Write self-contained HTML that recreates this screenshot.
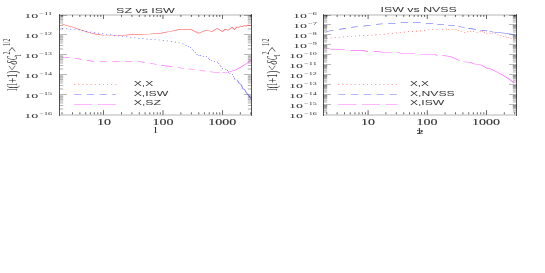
<!DOCTYPE html>
<html><head><meta charset="utf-8"><style>
html,body{margin:0;padding:0;background:#fff;}
svg{display:block;}
</style></head><body>
<svg width="545" height="273" viewBox="0 0 545 273">
<defs><filter id="tb" x="0" y="0" width="545" height="273" filterUnits="userSpaceOnUse"><feGaussianBlur stdDeviation="0.3"/></filter></defs>
<rect width="545" height="273" fill="#fff"/>
<g transform="scale(1.7,1)" stroke-linecap="butt" stroke-linejoin="round">
<polyline points="36.59,24.20 42.47,26.90 47.65,29.90 52.76,32.70 57.18,34.40 60.82,35.20 70.59,35.50 77.18,34.60 88.24,34.00 94.82,33.10 100.00,31.50 105.12,29.60 109.41,29.20 112.35,29.60 116.76,33.35 121.18,30.20 124.82,31.50 127.76,28.35 130.71,31.50 132.53,29.20 134.35,30.20 136.47,27.10 137.88,29.60 139.18,27.10 140.24,27.50 141.76,25.90 142.59,26.70 143.94,25.60 144.71,26.20 145.76,25.00 147.65,25.20" fill="none" stroke="#ff0000" stroke-width="0.6" stroke-opacity="0.58" />
<polyline points="36.59,28.40 41.76,29.20 46.88,29.90 51.29,31.50 55.71,32.70 60.12,33.70 64.53,34.60 69.65,35.80 71.88,36.50 76.47,37.10 81.59,38.30 86.00,39.00 90.41,39.60 94.82,40.20 97.76,40.80 102.18,41.70 106.59,43.30 108.59,44.40" fill="none" stroke="#0000ff" stroke-width="0.6" stroke-opacity="0.85" stroke-dasharray="0.55 1.87" />
<rect x="109.15" y="45.05" width="0.53" height="0.7" fill="#0000ff" fill-opacity="0.68"/>
<rect x="110.56" y="46.05" width="0.53" height="0.7" fill="#0000ff" fill-opacity="0.68"/>
<rect x="111.74" y="47.25" width="0.53" height="0.7" fill="#0000ff" fill-opacity="0.68"/>
<rect x="112.79" y="48.95" width="0.53" height="0.7" fill="#0000ff" fill-opacity="0.68"/>
<rect x="113.62" y="50.45" width="0.53" height="0.7" fill="#0000ff" fill-opacity="0.68"/>
<rect x="114.68" y="52.15" width="0.53" height="0.7" fill="#0000ff" fill-opacity="0.68"/>
<rect x="115.56" y="53.95" width="0.53" height="0.7" fill="#0000ff" fill-opacity="0.68"/>
<rect x="116.74" y="55.15" width="0.53" height="0.7" fill="#0000ff" fill-opacity="0.68"/>
<rect x="117.74" y="55.25" width="0.53" height="0.7" fill="#0000ff" fill-opacity="0.68"/>
<rect x="119.32" y="56.05" width="0.53" height="0.7" fill="#0000ff" fill-opacity="0.68"/>
<rect x="121.09" y="56.15" width="0.53" height="0.7" fill="#0000ff" fill-opacity="0.68"/>
<rect x="122.32" y="57.85" width="0.53" height="0.7" fill="#0000ff" fill-opacity="0.68"/>
<rect x="123.03" y="59.05" width="0.53" height="0.7" fill="#0000ff" fill-opacity="0.68"/>
<rect x="124.15" y="60.15" width="0.53" height="0.7" fill="#0000ff" fill-opacity="0.68"/>
<rect x="125.79" y="61.15" width="0.53" height="0.7" fill="#0000ff" fill-opacity="0.68"/>
<rect x="127.62" y="61.85" width="0.53" height="0.7" fill="#0000ff" fill-opacity="0.68"/>
<rect x="128.38" y="63.05" width="0.53" height="0.7" fill="#0000ff" fill-opacity="0.68"/>
<rect x="129.21" y="64.85" width="0.53" height="0.7" fill="#0000ff" fill-opacity="0.68"/>
<rect x="129.74" y="66.05" width="0.53" height="0.7" fill="#0000ff" fill-opacity="0.68"/>
<rect x="130.62" y="68.05" width="0.53" height="0.7" fill="#0000ff" fill-opacity="0.68"/>
<rect x="132.56" y="69.25" width="0.53" height="0.7" fill="#0000ff" fill-opacity="0.68"/>
<rect x="133.62" y="70.05" width="0.53" height="0.7" fill="#0000ff" fill-opacity="0.68"/>
<rect x="134.15" y="71.85" width="0.53" height="0.7" fill="#0000ff" fill-opacity="0.68"/>
<rect x="134.97" y="73.05" width="0.53" height="0.7" fill="#0000ff" fill-opacity="0.68"/>
<rect x="136.50" y="74.15" width="0.53" height="0.7" fill="#0000ff" fill-opacity="0.68"/>
<rect x="137.09" y="76.25" width="0.53" height="0.7" fill="#0000ff" fill-opacity="0.68"/>
<rect x="137.62" y="77.75" width="0.53" height="0.7" fill="#0000ff" fill-opacity="0.68"/>
<rect x="137.91" y="78.85" width="0.53" height="0.7" fill="#0000ff" fill-opacity="0.68"/>
<rect x="139.32" y="79.95" width="0.53" height="0.7" fill="#0000ff" fill-opacity="0.68"/>
<polyline points="139.76,80.80 140.12,81.60 140.65,83.40 141.88,84.60 142.35,86.50 142.71,88.50 143.76,89.50 144.35,90.90 144.65,92.10 145.29,93.30 146.24,95.30 147.65,98.70" fill="none" stroke="#0000ff" stroke-width="0.6" stroke-opacity="0.5"/>
<polyline points="36.59,57.50 40.88,57.60" fill="none" stroke="#ff00ff" stroke-width="0.6" stroke-opacity="0.58" />
<polyline points="43.94,58.20 48.00,59.40" fill="none" stroke="#ff00ff" stroke-width="0.6" stroke-opacity="0.58" />
<polyline points="51.18,60.40 55.18,61.40" fill="none" stroke="#ff00ff" stroke-width="0.6" stroke-opacity="0.58" />
<polyline points="58.47,61.50 62.71,61.50" fill="none" stroke="#ff00ff" stroke-width="0.6" stroke-opacity="0.58" />
<polyline points="66.00,61.50 70.41,61.50" fill="none" stroke="#ff00ff" stroke-width="0.6" stroke-opacity="0.58" />
<polyline points="73.53,61.50 77.76,61.50" fill="none" stroke="#ff00ff" stroke-width="0.6" stroke-opacity="0.58" />
<polyline points="80.88,61.50 85.06,62.40" fill="none" stroke="#ff00ff" stroke-width="0.6" stroke-opacity="0.58" />
<polyline points="88.24,63.20 92.24,64.50" fill="none" stroke="#ff00ff" stroke-width="0.6" stroke-opacity="0.58" />
<polyline points="94.82,65.40 101.41,66.60" fill="none" stroke="#ff00ff" stroke-width="0.6" stroke-opacity="0.58" />
<polyline points="104.53,67.50 108.18,68.50" fill="none" stroke="#ff00ff" stroke-width="0.6" stroke-opacity="0.58" />
<polyline points="110.88,68.70 114.53,69.70" fill="none" stroke="#ff00ff" stroke-width="0.6" stroke-opacity="0.58" />
<polyline points="117.12,70.00 120.82,71.20" fill="none" stroke="#ff00ff" stroke-width="0.6" stroke-opacity="0.58" />
<polyline points="123.35,71.80 129.24,72.70" fill="none" stroke="#ff00ff" stroke-width="0.6" stroke-opacity="0.58" />
<polyline points="130.71,72.70 135.12,71.80 138.82,69.70 142.47,66.20 145.41,63.10 147.65,60.00" fill="none" stroke="#ff00ff" stroke-width="0.6" stroke-opacity="0.58" />
<polyline points="43.65,84.50 68.47,84.50" fill="none" stroke="#ff0000" stroke-width="0.6" stroke-opacity="0.85" stroke-dasharray="0.55 1.87" />
<polyline points="43.59,94.50 68.18,94.50" fill="none" stroke="#0000ff" stroke-width="0.6" stroke-opacity="0.58" stroke-dasharray="4.29 3.18" />
<polyline points="43.59,104.50 68.12,104.50" fill="none" stroke="#ff00ff" stroke-width="0.6" stroke-opacity="0.58" stroke-dasharray="10.65 3.18" />
<polyline points="192.12,31.50 196.18,30.20" fill="none" stroke="#0000ff" stroke-width="0.6" stroke-opacity="0.58" />
<polyline points="199.47,29.40 203.35,28.40" fill="none" stroke="#0000ff" stroke-width="0.6" stroke-opacity="0.58" />
<polyline points="206.65,27.40 210.47,26.50" fill="none" stroke="#0000ff" stroke-width="0.6" stroke-opacity="0.58" />
<polyline points="213.76,26.10 218.00,25.20" fill="none" stroke="#0000ff" stroke-width="0.6" stroke-opacity="0.58" />
<polyline points="221.35,24.40 225.12,23.70" fill="none" stroke="#0000ff" stroke-width="0.6" stroke-opacity="0.58" />
<polyline points="228.29,23.40 232.71,23.40" fill="none" stroke="#0000ff" stroke-width="0.6" stroke-opacity="0.58" />
<polyline points="235.65,22.50 240.06,22.50" fill="none" stroke="#0000ff" stroke-width="0.6" stroke-opacity="0.58" />
<polyline points="243.00,22.50 247.41,22.50" fill="none" stroke="#0000ff" stroke-width="0.6" stroke-opacity="0.58" />
<polyline points="250.53,23.40 254.76,23.40" fill="none" stroke="#0000ff" stroke-width="0.6" stroke-opacity="0.58" />
<polyline points="257.18,24.40 261.12,24.40" fill="none" stroke="#0000ff" stroke-width="0.6" stroke-opacity="0.58" />
<polyline points="263.76,25.50 267.41,25.50" fill="none" stroke="#0000ff" stroke-width="0.6" stroke-opacity="0.58" />
<polyline points="269.65,26.50 273.29,27.50" fill="none" stroke="#0000ff" stroke-width="0.6" stroke-opacity="0.58" />
<polyline points="275.47,28.40 279.88,29.40" fill="none" stroke="#0000ff" stroke-width="0.6" stroke-opacity="0.58" />
<polyline points="282.47,30.20 286.53,30.90" fill="none" stroke="#0000ff" stroke-width="0.6" stroke-opacity="0.58" />
<polyline points="288.00,31.50 290.18,32.00 294.59,32.70 299.35,33.70 302.94,34.70" fill="none" stroke="#0000ff" stroke-width="0.6" stroke-opacity="0.58" />
<polyline points="192.12,38.60 196.88,37.70 204.24,36.50 211.59,35.80 218.94,35.20 225.88,34.20 230.88,33.40 235.29,32.50 241.88,31.50 247.06,30.90 253.65,29.60 258.06,29.40 259.12,29.40" fill="none" stroke="#ff0000" stroke-width="0.6" stroke-opacity="0.85" stroke-dasharray="0.55 1.87" />
<rect x="260.09" y="29.15" width="0.53" height="0.7" fill="#ff0000" fill-opacity="0.62"/>
<rect x="262.38" y="28.75" width="0.53" height="0.7" fill="#ff0000" fill-opacity="0.62"/>
<rect x="263.68" y="29.15" width="0.53" height="0.7" fill="#ff0000" fill-opacity="0.62"/>
<rect x="266.09" y="29.15" width="0.53" height="0.7" fill="#ff0000" fill-opacity="0.62"/>
<rect x="267.97" y="29.15" width="0.53" height="0.7" fill="#ff0000" fill-opacity="0.62"/>
<rect x="269.32" y="30.25" width="0.53" height="0.7" fill="#ff0000" fill-opacity="0.62"/>
<rect x="270.97" y="31.15" width="0.53" height="0.7" fill="#ff0000" fill-opacity="0.62"/>
<rect x="273.03" y="32.05" width="0.53" height="0.7" fill="#ff0000" fill-opacity="0.62"/>
<rect x="274.97" y="31.15" width="0.53" height="0.7" fill="#ff0000" fill-opacity="0.62"/>
<rect x="276.62" y="31.15" width="0.53" height="0.7" fill="#ff0000" fill-opacity="0.62"/>
<rect x="278.32" y="31.15" width="0.53" height="0.7" fill="#ff0000" fill-opacity="0.62"/>
<rect x="280.38" y="32.05" width="0.53" height="0.7" fill="#ff0000" fill-opacity="0.62"/>
<rect x="282.21" y="30.95" width="0.53" height="0.7" fill="#ff0000" fill-opacity="0.62"/>
<rect x="283.50" y="30.95" width="0.53" height="0.7" fill="#ff0000" fill-opacity="0.62"/>
<rect x="284.74" y="32.15" width="0.53" height="0.7" fill="#ff0000" fill-opacity="0.62"/>
<rect x="286.09" y="32.95" width="0.53" height="0.7" fill="#ff0000" fill-opacity="0.62"/>
<rect x="288.03" y="32.85" width="0.53" height="0.7" fill="#ff0000" fill-opacity="0.62"/>
<rect x="289.32" y="32.95" width="0.53" height="0.7" fill="#ff0000" fill-opacity="0.62"/>
<rect x="291.26" y="32.95" width="0.53" height="0.7" fill="#ff0000" fill-opacity="0.62"/>
<rect x="292.56" y="34.45" width="0.53" height="0.7" fill="#ff0000" fill-opacity="0.62"/>
<rect x="294.32" y="35.05" width="0.53" height="0.7" fill="#ff0000" fill-opacity="0.62"/>
<rect x="295.79" y="36.05" width="0.53" height="0.7" fill="#ff0000" fill-opacity="0.62"/>
<rect x="296.97" y="35.95" width="0.53" height="0.7" fill="#ff0000" fill-opacity="0.62"/>
<rect x="297.97" y="37.05" width="0.53" height="0.7" fill="#ff0000" fill-opacity="0.62"/>
<rect x="299.03" y="37.05" width="0.53" height="0.7" fill="#ff0000" fill-opacity="0.62"/>
<rect x="300.32" y="38.15" width="0.53" height="0.7" fill="#ff0000" fill-opacity="0.62"/>
<rect x="302.09" y="39.25" width="0.53" height="0.7" fill="#ff0000" fill-opacity="0.62"/>
<polyline points="192.12,47.90 194.35,49.10 202.76,49.50" fill="none" stroke="#ff00ff" stroke-width="0.6" stroke-opacity="0.58" />
<polyline points="206.06,50.40 213.06,50.40 216.35,51.60" fill="none" stroke="#ff00ff" stroke-width="0.6" stroke-opacity="0.58" />
<polyline points="219.82,51.60 222.59,51.60 225.88,52.50 230.53,52.50" fill="none" stroke="#ff00ff" stroke-width="0.6" stroke-opacity="0.58" />
<polyline points="233.65,52.20 236.00,53.50 244.12,53.50" fill="none" stroke="#ff00ff" stroke-width="0.6" stroke-opacity="0.58" />
<polyline points="247.18,54.50 255.12,54.50 257.29,55.40" fill="none" stroke="#ff00ff" stroke-width="0.6" stroke-opacity="0.58" />
<polyline points="260.24,55.40 263.53,56.20 265.59,56.90 270.35,60.40" fill="none" stroke="#ff00ff" stroke-width="0.6" stroke-opacity="0.58" />
<polyline points="272.59,61.80 276.94,62.50 279.53,64.30 283.24,65.00 286.12,68.10 288.35,68.70 290.53,70.60 292.24,71.90 295.59,75.00 299.24,78.70 302.53,83.10" fill="none" stroke="#ff00ff" stroke-width="0.6" stroke-opacity="0.58" />
<polyline points="198.94,84.50 233.76,84.50" fill="none" stroke="#ff0000" stroke-width="0.6" stroke-opacity="0.85" stroke-dasharray="0.55 1.87" />
<polyline points="198.94,94.50 233.53,94.50" fill="none" stroke="#0000ff" stroke-width="0.6" stroke-opacity="0.58" stroke-dasharray="4.29 3.24" />
<polyline points="198.94,104.50 233.82,104.50" fill="none" stroke="#ff00ff" stroke-width="0.6" stroke-opacity="0.58" stroke-dasharray="10.76 3.12" />
</g>
<line x1="59.50" y1="15.00" x2="251.50" y2="15.00" stroke="#000" stroke-width="2.0" opacity="0.14"/>
<line x1="59.50" y1="115.00" x2="251.50" y2="115.00" stroke="#000" stroke-width="2.0" opacity="0.14"/>
<line x1="62.00" y1="114.30" x2="62.00" y2="112.30" stroke="#000" stroke-width="0.85" opacity="0.72"/>
<line x1="62.00" y1="15.00" x2="62.00" y2="16.90" stroke="#000" stroke-width="0.85" opacity="0.72"/>
<line x1="72.46" y1="114.30" x2="72.46" y2="112.30" stroke="#000" stroke-width="0.85" opacity="0.72"/>
<line x1="72.46" y1="15.00" x2="72.46" y2="16.90" stroke="#000" stroke-width="0.85" opacity="0.72"/>
<line x1="79.89" y1="114.30" x2="79.89" y2="112.30" stroke="#000" stroke-width="0.85" opacity="0.72"/>
<line x1="79.89" y1="15.00" x2="79.89" y2="16.90" stroke="#000" stroke-width="0.85" opacity="0.72"/>
<line x1="85.65" y1="114.30" x2="85.65" y2="112.30" stroke="#000" stroke-width="0.85" opacity="0.72"/>
<line x1="85.65" y1="15.00" x2="85.65" y2="16.90" stroke="#000" stroke-width="0.85" opacity="0.72"/>
<line x1="90.36" y1="114.30" x2="90.36" y2="112.30" stroke="#000" stroke-width="0.85" opacity="0.72"/>
<line x1="90.36" y1="15.00" x2="90.36" y2="16.90" stroke="#000" stroke-width="0.85" opacity="0.72"/>
<line x1="94.34" y1="114.30" x2="94.34" y2="112.30" stroke="#000" stroke-width="0.85" opacity="0.72"/>
<line x1="94.34" y1="15.00" x2="94.34" y2="16.90" stroke="#000" stroke-width="0.85" opacity="0.72"/>
<line x1="97.79" y1="114.30" x2="97.79" y2="112.30" stroke="#000" stroke-width="0.85" opacity="0.72"/>
<line x1="97.79" y1="15.00" x2="97.79" y2="16.90" stroke="#000" stroke-width="0.85" opacity="0.72"/>
<line x1="100.83" y1="114.30" x2="100.83" y2="112.30" stroke="#000" stroke-width="0.85" opacity="0.72"/>
<line x1="100.83" y1="15.00" x2="100.83" y2="16.90" stroke="#000" stroke-width="0.85" opacity="0.72"/>
<line x1="103.55" y1="114.80" x2="103.55" y2="110.20" stroke="#000" stroke-width="0.85" opacity="0.72"/>
<line x1="103.55" y1="14.90" x2="103.55" y2="19.00" stroke="#000" stroke-width="0.85" opacity="0.72"/>
<line x1="121.45" y1="114.30" x2="121.45" y2="112.30" stroke="#000" stroke-width="0.85" opacity="0.72"/>
<line x1="121.45" y1="15.00" x2="121.45" y2="16.90" stroke="#000" stroke-width="0.85" opacity="0.72"/>
<line x1="131.91" y1="114.30" x2="131.91" y2="112.30" stroke="#000" stroke-width="0.85" opacity="0.72"/>
<line x1="131.91" y1="15.00" x2="131.91" y2="16.90" stroke="#000" stroke-width="0.85" opacity="0.72"/>
<line x1="139.34" y1="114.30" x2="139.34" y2="112.30" stroke="#000" stroke-width="0.85" opacity="0.72"/>
<line x1="139.34" y1="15.00" x2="139.34" y2="16.90" stroke="#000" stroke-width="0.85" opacity="0.72"/>
<line x1="145.10" y1="114.30" x2="145.10" y2="112.30" stroke="#000" stroke-width="0.85" opacity="0.72"/>
<line x1="145.10" y1="15.00" x2="145.10" y2="16.90" stroke="#000" stroke-width="0.85" opacity="0.72"/>
<line x1="149.81" y1="114.30" x2="149.81" y2="112.30" stroke="#000" stroke-width="0.85" opacity="0.72"/>
<line x1="149.81" y1="15.00" x2="149.81" y2="16.90" stroke="#000" stroke-width="0.85" opacity="0.72"/>
<line x1="153.79" y1="114.30" x2="153.79" y2="112.30" stroke="#000" stroke-width="0.85" opacity="0.72"/>
<line x1="153.79" y1="15.00" x2="153.79" y2="16.90" stroke="#000" stroke-width="0.85" opacity="0.72"/>
<line x1="157.24" y1="114.30" x2="157.24" y2="112.30" stroke="#000" stroke-width="0.85" opacity="0.72"/>
<line x1="157.24" y1="15.00" x2="157.24" y2="16.90" stroke="#000" stroke-width="0.85" opacity="0.72"/>
<line x1="160.28" y1="114.30" x2="160.28" y2="112.30" stroke="#000" stroke-width="0.85" opacity="0.72"/>
<line x1="160.28" y1="15.00" x2="160.28" y2="16.90" stroke="#000" stroke-width="0.85" opacity="0.72"/>
<line x1="163.00" y1="114.80" x2="163.00" y2="110.20" stroke="#000" stroke-width="0.85" opacity="0.72"/>
<line x1="163.00" y1="14.90" x2="163.00" y2="19.00" stroke="#000" stroke-width="0.85" opacity="0.72"/>
<line x1="180.90" y1="114.30" x2="180.90" y2="112.30" stroke="#000" stroke-width="0.85" opacity="0.72"/>
<line x1="180.90" y1="15.00" x2="180.90" y2="16.90" stroke="#000" stroke-width="0.85" opacity="0.72"/>
<line x1="191.36" y1="114.30" x2="191.36" y2="112.30" stroke="#000" stroke-width="0.85" opacity="0.72"/>
<line x1="191.36" y1="15.00" x2="191.36" y2="16.90" stroke="#000" stroke-width="0.85" opacity="0.72"/>
<line x1="198.79" y1="114.30" x2="198.79" y2="112.30" stroke="#000" stroke-width="0.85" opacity="0.72"/>
<line x1="198.79" y1="15.00" x2="198.79" y2="16.90" stroke="#000" stroke-width="0.85" opacity="0.72"/>
<line x1="204.55" y1="114.30" x2="204.55" y2="112.30" stroke="#000" stroke-width="0.85" opacity="0.72"/>
<line x1="204.55" y1="15.00" x2="204.55" y2="16.90" stroke="#000" stroke-width="0.85" opacity="0.72"/>
<line x1="209.26" y1="114.30" x2="209.26" y2="112.30" stroke="#000" stroke-width="0.85" opacity="0.72"/>
<line x1="209.26" y1="15.00" x2="209.26" y2="16.90" stroke="#000" stroke-width="0.85" opacity="0.72"/>
<line x1="213.24" y1="114.30" x2="213.24" y2="112.30" stroke="#000" stroke-width="0.85" opacity="0.72"/>
<line x1="213.24" y1="15.00" x2="213.24" y2="16.90" stroke="#000" stroke-width="0.85" opacity="0.72"/>
<line x1="216.69" y1="114.30" x2="216.69" y2="112.30" stroke="#000" stroke-width="0.85" opacity="0.72"/>
<line x1="216.69" y1="15.00" x2="216.69" y2="16.90" stroke="#000" stroke-width="0.85" opacity="0.72"/>
<line x1="219.73" y1="114.30" x2="219.73" y2="112.30" stroke="#000" stroke-width="0.85" opacity="0.72"/>
<line x1="219.73" y1="15.00" x2="219.73" y2="16.90" stroke="#000" stroke-width="0.85" opacity="0.72"/>
<line x1="222.45" y1="114.80" x2="222.45" y2="110.20" stroke="#000" stroke-width="0.85" opacity="0.72"/>
<line x1="222.45" y1="14.90" x2="222.45" y2="19.00" stroke="#000" stroke-width="0.85" opacity="0.72"/>
<line x1="240.35" y1="114.30" x2="240.35" y2="112.30" stroke="#000" stroke-width="0.85" opacity="0.72"/>
<line x1="240.35" y1="15.00" x2="240.35" y2="16.90" stroke="#000" stroke-width="0.85" opacity="0.72"/>
<line x1="250.81" y1="114.30" x2="250.81" y2="112.30" stroke="#000" stroke-width="0.85" opacity="0.72"/>
<line x1="250.81" y1="15.00" x2="250.81" y2="16.90" stroke="#000" stroke-width="0.85" opacity="0.72"/>
<line x1="59.50" y1="15.45" x2="67.00" y2="15.45" stroke="#000" stroke-width="0.42" opacity="0.7"/>
<line x1="251.50" y1="15.45" x2="244.00" y2="15.45" stroke="#000" stroke-width="0.42" opacity="0.7"/>
<line x1="59.50" y1="28.98" x2="63.20" y2="28.98" stroke="#000" stroke-width="0.36" opacity="0.9"/>
<line x1="251.50" y1="28.98" x2="247.80" y2="28.98" stroke="#000" stroke-width="0.36" opacity="0.9"/>
<line x1="59.50" y1="25.46" x2="63.20" y2="25.46" stroke="#000" stroke-width="0.36" opacity="0.9"/>
<line x1="251.50" y1="25.46" x2="247.80" y2="25.46" stroke="#000" stroke-width="0.36" opacity="0.9"/>
<line x1="59.50" y1="22.96" x2="63.20" y2="22.96" stroke="#000" stroke-width="0.36" opacity="0.9"/>
<line x1="251.50" y1="22.96" x2="247.80" y2="22.96" stroke="#000" stroke-width="0.36" opacity="0.9"/>
<line x1="59.50" y1="21.02" x2="63.20" y2="21.02" stroke="#000" stroke-width="0.36" opacity="0.9"/>
<line x1="251.50" y1="21.02" x2="247.80" y2="21.02" stroke="#000" stroke-width="0.36" opacity="0.9"/>
<line x1="59.50" y1="19.44" x2="63.20" y2="19.44" stroke="#000" stroke-width="0.36" opacity="0.9"/>
<line x1="251.50" y1="19.44" x2="247.80" y2="19.44" stroke="#000" stroke-width="0.36" opacity="0.9"/>
<line x1="59.50" y1="18.10" x2="63.20" y2="18.10" stroke="#000" stroke-width="0.36" opacity="0.9"/>
<line x1="251.50" y1="18.10" x2="247.80" y2="18.10" stroke="#000" stroke-width="0.36" opacity="0.9"/>
<line x1="59.50" y1="16.94" x2="63.20" y2="16.94" stroke="#000" stroke-width="0.36" opacity="0.9"/>
<line x1="251.50" y1="16.94" x2="247.80" y2="16.94" stroke="#000" stroke-width="0.36" opacity="0.9"/>
<line x1="59.50" y1="15.92" x2="63.20" y2="15.92" stroke="#000" stroke-width="0.36" opacity="0.9"/>
<line x1="251.50" y1="15.92" x2="247.80" y2="15.92" stroke="#000" stroke-width="0.36" opacity="0.9"/>
<line x1="59.50" y1="34.75" x2="67.00" y2="34.75" stroke="#000" stroke-width="0.42" opacity="0.9"/>
<line x1="251.50" y1="34.75" x2="244.00" y2="34.75" stroke="#000" stroke-width="0.42" opacity="0.9"/>
<line x1="59.50" y1="48.98" x2="63.20" y2="48.98" stroke="#000" stroke-width="0.36" opacity="0.9"/>
<line x1="251.50" y1="48.98" x2="247.80" y2="48.98" stroke="#000" stroke-width="0.36" opacity="0.9"/>
<line x1="59.50" y1="45.46" x2="63.20" y2="45.46" stroke="#000" stroke-width="0.36" opacity="0.9"/>
<line x1="251.50" y1="45.46" x2="247.80" y2="45.46" stroke="#000" stroke-width="0.36" opacity="0.9"/>
<line x1="59.50" y1="42.96" x2="63.20" y2="42.96" stroke="#000" stroke-width="0.36" opacity="0.9"/>
<line x1="251.50" y1="42.96" x2="247.80" y2="42.96" stroke="#000" stroke-width="0.36" opacity="0.9"/>
<line x1="59.50" y1="41.02" x2="63.20" y2="41.02" stroke="#000" stroke-width="0.36" opacity="0.9"/>
<line x1="251.50" y1="41.02" x2="247.80" y2="41.02" stroke="#000" stroke-width="0.36" opacity="0.9"/>
<line x1="59.50" y1="39.44" x2="63.20" y2="39.44" stroke="#000" stroke-width="0.36" opacity="0.9"/>
<line x1="251.50" y1="39.44" x2="247.80" y2="39.44" stroke="#000" stroke-width="0.36" opacity="0.9"/>
<line x1="59.50" y1="38.10" x2="63.20" y2="38.10" stroke="#000" stroke-width="0.36" opacity="0.9"/>
<line x1="251.50" y1="38.10" x2="247.80" y2="38.10" stroke="#000" stroke-width="0.36" opacity="0.9"/>
<line x1="59.50" y1="36.94" x2="63.20" y2="36.94" stroke="#000" stroke-width="0.36" opacity="0.9"/>
<line x1="251.50" y1="36.94" x2="247.80" y2="36.94" stroke="#000" stroke-width="0.36" opacity="0.9"/>
<line x1="59.50" y1="35.92" x2="63.20" y2="35.92" stroke="#000" stroke-width="0.36" opacity="0.9"/>
<line x1="251.50" y1="35.92" x2="247.80" y2="35.92" stroke="#000" stroke-width="0.36" opacity="0.9"/>
<line x1="59.50" y1="54.75" x2="67.00" y2="54.75" stroke="#000" stroke-width="0.42" opacity="0.9"/>
<line x1="251.50" y1="54.75" x2="244.00" y2="54.75" stroke="#000" stroke-width="0.42" opacity="0.9"/>
<line x1="59.50" y1="68.98" x2="63.20" y2="68.98" stroke="#000" stroke-width="0.36" opacity="0.9"/>
<line x1="251.50" y1="68.98" x2="247.80" y2="68.98" stroke="#000" stroke-width="0.36" opacity="0.9"/>
<line x1="59.50" y1="65.46" x2="63.20" y2="65.46" stroke="#000" stroke-width="0.36" opacity="0.9"/>
<line x1="251.50" y1="65.46" x2="247.80" y2="65.46" stroke="#000" stroke-width="0.36" opacity="0.9"/>
<line x1="59.50" y1="62.96" x2="63.20" y2="62.96" stroke="#000" stroke-width="0.36" opacity="0.9"/>
<line x1="251.50" y1="62.96" x2="247.80" y2="62.96" stroke="#000" stroke-width="0.36" opacity="0.9"/>
<line x1="59.50" y1="61.02" x2="63.20" y2="61.02" stroke="#000" stroke-width="0.36" opacity="0.9"/>
<line x1="251.50" y1="61.02" x2="247.80" y2="61.02" stroke="#000" stroke-width="0.36" opacity="0.9"/>
<line x1="59.50" y1="59.44" x2="63.20" y2="59.44" stroke="#000" stroke-width="0.36" opacity="0.9"/>
<line x1="251.50" y1="59.44" x2="247.80" y2="59.44" stroke="#000" stroke-width="0.36" opacity="0.9"/>
<line x1="59.50" y1="58.10" x2="63.20" y2="58.10" stroke="#000" stroke-width="0.36" opacity="0.9"/>
<line x1="251.50" y1="58.10" x2="247.80" y2="58.10" stroke="#000" stroke-width="0.36" opacity="0.9"/>
<line x1="59.50" y1="56.94" x2="63.20" y2="56.94" stroke="#000" stroke-width="0.36" opacity="0.9"/>
<line x1="251.50" y1="56.94" x2="247.80" y2="56.94" stroke="#000" stroke-width="0.36" opacity="0.9"/>
<line x1="59.50" y1="55.92" x2="63.20" y2="55.92" stroke="#000" stroke-width="0.36" opacity="0.9"/>
<line x1="251.50" y1="55.92" x2="247.80" y2="55.92" stroke="#000" stroke-width="0.36" opacity="0.9"/>
<line x1="59.50" y1="74.75" x2="67.00" y2="74.75" stroke="#000" stroke-width="0.42" opacity="0.9"/>
<line x1="251.50" y1="74.75" x2="244.00" y2="74.75" stroke="#000" stroke-width="0.42" opacity="0.9"/>
<line x1="59.50" y1="88.98" x2="63.20" y2="88.98" stroke="#000" stroke-width="0.36" opacity="0.9"/>
<line x1="251.50" y1="88.98" x2="247.80" y2="88.98" stroke="#000" stroke-width="0.36" opacity="0.9"/>
<line x1="59.50" y1="85.46" x2="63.20" y2="85.46" stroke="#000" stroke-width="0.36" opacity="0.9"/>
<line x1="251.50" y1="85.46" x2="247.80" y2="85.46" stroke="#000" stroke-width="0.36" opacity="0.9"/>
<line x1="59.50" y1="82.96" x2="63.20" y2="82.96" stroke="#000" stroke-width="0.36" opacity="0.9"/>
<line x1="251.50" y1="82.96" x2="247.80" y2="82.96" stroke="#000" stroke-width="0.36" opacity="0.9"/>
<line x1="59.50" y1="81.02" x2="63.20" y2="81.02" stroke="#000" stroke-width="0.36" opacity="0.9"/>
<line x1="251.50" y1="81.02" x2="247.80" y2="81.02" stroke="#000" stroke-width="0.36" opacity="0.9"/>
<line x1="59.50" y1="79.44" x2="63.20" y2="79.44" stroke="#000" stroke-width="0.36" opacity="0.9"/>
<line x1="251.50" y1="79.44" x2="247.80" y2="79.44" stroke="#000" stroke-width="0.36" opacity="0.9"/>
<line x1="59.50" y1="78.10" x2="63.20" y2="78.10" stroke="#000" stroke-width="0.36" opacity="0.9"/>
<line x1="251.50" y1="78.10" x2="247.80" y2="78.10" stroke="#000" stroke-width="0.36" opacity="0.9"/>
<line x1="59.50" y1="76.94" x2="63.20" y2="76.94" stroke="#000" stroke-width="0.36" opacity="0.9"/>
<line x1="251.50" y1="76.94" x2="247.80" y2="76.94" stroke="#000" stroke-width="0.36" opacity="0.9"/>
<line x1="59.50" y1="75.92" x2="63.20" y2="75.92" stroke="#000" stroke-width="0.36" opacity="0.9"/>
<line x1="251.50" y1="75.92" x2="247.80" y2="75.92" stroke="#000" stroke-width="0.36" opacity="0.9"/>
<line x1="59.50" y1="94.75" x2="67.00" y2="94.75" stroke="#000" stroke-width="0.42" opacity="0.9"/>
<line x1="251.50" y1="94.75" x2="244.00" y2="94.75" stroke="#000" stroke-width="0.42" opacity="0.9"/>
<line x1="59.50" y1="108.98" x2="63.20" y2="108.98" stroke="#000" stroke-width="0.36" opacity="0.9"/>
<line x1="251.50" y1="108.98" x2="247.80" y2="108.98" stroke="#000" stroke-width="0.36" opacity="0.9"/>
<line x1="59.50" y1="105.46" x2="63.20" y2="105.46" stroke="#000" stroke-width="0.36" opacity="0.9"/>
<line x1="251.50" y1="105.46" x2="247.80" y2="105.46" stroke="#000" stroke-width="0.36" opacity="0.9"/>
<line x1="59.50" y1="102.96" x2="63.20" y2="102.96" stroke="#000" stroke-width="0.36" opacity="0.9"/>
<line x1="251.50" y1="102.96" x2="247.80" y2="102.96" stroke="#000" stroke-width="0.36" opacity="0.9"/>
<line x1="59.50" y1="101.02" x2="63.20" y2="101.02" stroke="#000" stroke-width="0.36" opacity="0.9"/>
<line x1="251.50" y1="101.02" x2="247.80" y2="101.02" stroke="#000" stroke-width="0.36" opacity="0.9"/>
<line x1="59.50" y1="99.44" x2="63.20" y2="99.44" stroke="#000" stroke-width="0.36" opacity="0.9"/>
<line x1="251.50" y1="99.44" x2="247.80" y2="99.44" stroke="#000" stroke-width="0.36" opacity="0.9"/>
<line x1="59.50" y1="98.10" x2="63.20" y2="98.10" stroke="#000" stroke-width="0.36" opacity="0.9"/>
<line x1="251.50" y1="98.10" x2="247.80" y2="98.10" stroke="#000" stroke-width="0.36" opacity="0.9"/>
<line x1="59.50" y1="96.94" x2="63.20" y2="96.94" stroke="#000" stroke-width="0.36" opacity="0.9"/>
<line x1="251.50" y1="96.94" x2="247.80" y2="96.94" stroke="#000" stroke-width="0.36" opacity="0.9"/>
<line x1="59.50" y1="95.92" x2="63.20" y2="95.92" stroke="#000" stroke-width="0.36" opacity="0.9"/>
<line x1="251.50" y1="95.92" x2="247.80" y2="95.92" stroke="#000" stroke-width="0.36" opacity="0.9"/>
<line x1="59.50" y1="14.10" x2="59.50" y2="115.90" stroke="#000" stroke-width="1.0" opacity="0.66"/>
<line x1="251.50" y1="14.10" x2="251.50" y2="115.90" stroke="#000" stroke-width="1.0" opacity="0.66"/>
<line x1="323.50" y1="15.00" x2="516.50" y2="15.00" stroke="#000" stroke-width="2.0" opacity="0.14"/>
<line x1="323.50" y1="115.00" x2="516.50" y2="115.00" stroke="#000" stroke-width="2.0" opacity="0.14"/>
<line x1="326.72" y1="114.30" x2="326.72" y2="112.30" stroke="#000" stroke-width="0.85" opacity="0.72"/>
<line x1="326.72" y1="15.00" x2="326.72" y2="16.90" stroke="#000" stroke-width="0.85" opacity="0.72"/>
<line x1="337.15" y1="114.30" x2="337.15" y2="112.30" stroke="#000" stroke-width="0.85" opacity="0.72"/>
<line x1="337.15" y1="15.00" x2="337.15" y2="16.90" stroke="#000" stroke-width="0.85" opacity="0.72"/>
<line x1="344.54" y1="114.30" x2="344.54" y2="112.30" stroke="#000" stroke-width="0.85" opacity="0.72"/>
<line x1="344.54" y1="15.00" x2="344.54" y2="16.90" stroke="#000" stroke-width="0.85" opacity="0.72"/>
<line x1="350.28" y1="114.30" x2="350.28" y2="112.30" stroke="#000" stroke-width="0.85" opacity="0.72"/>
<line x1="350.28" y1="15.00" x2="350.28" y2="16.90" stroke="#000" stroke-width="0.85" opacity="0.72"/>
<line x1="354.97" y1="114.30" x2="354.97" y2="112.30" stroke="#000" stroke-width="0.85" opacity="0.72"/>
<line x1="354.97" y1="15.00" x2="354.97" y2="16.90" stroke="#000" stroke-width="0.85" opacity="0.72"/>
<line x1="358.93" y1="114.30" x2="358.93" y2="112.30" stroke="#000" stroke-width="0.85" opacity="0.72"/>
<line x1="358.93" y1="15.00" x2="358.93" y2="16.90" stroke="#000" stroke-width="0.85" opacity="0.72"/>
<line x1="362.36" y1="114.30" x2="362.36" y2="112.30" stroke="#000" stroke-width="0.85" opacity="0.72"/>
<line x1="362.36" y1="15.00" x2="362.36" y2="16.90" stroke="#000" stroke-width="0.85" opacity="0.72"/>
<line x1="365.39" y1="114.30" x2="365.39" y2="112.30" stroke="#000" stroke-width="0.85" opacity="0.72"/>
<line x1="365.39" y1="15.00" x2="365.39" y2="16.90" stroke="#000" stroke-width="0.85" opacity="0.72"/>
<line x1="368.10" y1="114.80" x2="368.10" y2="110.20" stroke="#000" stroke-width="0.85" opacity="0.72"/>
<line x1="368.10" y1="14.90" x2="368.10" y2="19.00" stroke="#000" stroke-width="0.85" opacity="0.72"/>
<line x1="385.92" y1="114.30" x2="385.92" y2="112.30" stroke="#000" stroke-width="0.85" opacity="0.72"/>
<line x1="385.92" y1="15.00" x2="385.92" y2="16.90" stroke="#000" stroke-width="0.85" opacity="0.72"/>
<line x1="396.35" y1="114.30" x2="396.35" y2="112.30" stroke="#000" stroke-width="0.85" opacity="0.72"/>
<line x1="396.35" y1="15.00" x2="396.35" y2="16.90" stroke="#000" stroke-width="0.85" opacity="0.72"/>
<line x1="403.74" y1="114.30" x2="403.74" y2="112.30" stroke="#000" stroke-width="0.85" opacity="0.72"/>
<line x1="403.74" y1="15.00" x2="403.74" y2="16.90" stroke="#000" stroke-width="0.85" opacity="0.72"/>
<line x1="409.48" y1="114.30" x2="409.48" y2="112.30" stroke="#000" stroke-width="0.85" opacity="0.72"/>
<line x1="409.48" y1="15.00" x2="409.48" y2="16.90" stroke="#000" stroke-width="0.85" opacity="0.72"/>
<line x1="414.17" y1="114.30" x2="414.17" y2="112.30" stroke="#000" stroke-width="0.85" opacity="0.72"/>
<line x1="414.17" y1="15.00" x2="414.17" y2="16.90" stroke="#000" stroke-width="0.85" opacity="0.72"/>
<line x1="418.13" y1="114.30" x2="418.13" y2="112.30" stroke="#000" stroke-width="0.85" opacity="0.72"/>
<line x1="418.13" y1="15.00" x2="418.13" y2="16.90" stroke="#000" stroke-width="0.85" opacity="0.72"/>
<line x1="421.56" y1="114.30" x2="421.56" y2="112.30" stroke="#000" stroke-width="0.85" opacity="0.72"/>
<line x1="421.56" y1="15.00" x2="421.56" y2="16.90" stroke="#000" stroke-width="0.85" opacity="0.72"/>
<line x1="424.59" y1="114.30" x2="424.59" y2="112.30" stroke="#000" stroke-width="0.85" opacity="0.72"/>
<line x1="424.59" y1="15.00" x2="424.59" y2="16.90" stroke="#000" stroke-width="0.85" opacity="0.72"/>
<line x1="427.30" y1="114.80" x2="427.30" y2="110.20" stroke="#000" stroke-width="0.85" opacity="0.72"/>
<line x1="427.30" y1="14.90" x2="427.30" y2="19.00" stroke="#000" stroke-width="0.85" opacity="0.72"/>
<line x1="445.12" y1="114.30" x2="445.12" y2="112.30" stroke="#000" stroke-width="0.85" opacity="0.72"/>
<line x1="445.12" y1="15.00" x2="445.12" y2="16.90" stroke="#000" stroke-width="0.85" opacity="0.72"/>
<line x1="455.55" y1="114.30" x2="455.55" y2="112.30" stroke="#000" stroke-width="0.85" opacity="0.72"/>
<line x1="455.55" y1="15.00" x2="455.55" y2="16.90" stroke="#000" stroke-width="0.85" opacity="0.72"/>
<line x1="462.94" y1="114.30" x2="462.94" y2="112.30" stroke="#000" stroke-width="0.85" opacity="0.72"/>
<line x1="462.94" y1="15.00" x2="462.94" y2="16.90" stroke="#000" stroke-width="0.85" opacity="0.72"/>
<line x1="468.68" y1="114.30" x2="468.68" y2="112.30" stroke="#000" stroke-width="0.85" opacity="0.72"/>
<line x1="468.68" y1="15.00" x2="468.68" y2="16.90" stroke="#000" stroke-width="0.85" opacity="0.72"/>
<line x1="473.37" y1="114.30" x2="473.37" y2="112.30" stroke="#000" stroke-width="0.85" opacity="0.72"/>
<line x1="473.37" y1="15.00" x2="473.37" y2="16.90" stroke="#000" stroke-width="0.85" opacity="0.72"/>
<line x1="477.33" y1="114.30" x2="477.33" y2="112.30" stroke="#000" stroke-width="0.85" opacity="0.72"/>
<line x1="477.33" y1="15.00" x2="477.33" y2="16.90" stroke="#000" stroke-width="0.85" opacity="0.72"/>
<line x1="480.76" y1="114.30" x2="480.76" y2="112.30" stroke="#000" stroke-width="0.85" opacity="0.72"/>
<line x1="480.76" y1="15.00" x2="480.76" y2="16.90" stroke="#000" stroke-width="0.85" opacity="0.72"/>
<line x1="483.79" y1="114.30" x2="483.79" y2="112.30" stroke="#000" stroke-width="0.85" opacity="0.72"/>
<line x1="483.79" y1="15.00" x2="483.79" y2="16.90" stroke="#000" stroke-width="0.85" opacity="0.72"/>
<line x1="486.50" y1="114.80" x2="486.50" y2="110.20" stroke="#000" stroke-width="0.85" opacity="0.72"/>
<line x1="486.50" y1="14.90" x2="486.50" y2="19.00" stroke="#000" stroke-width="0.85" opacity="0.72"/>
<line x1="504.32" y1="114.30" x2="504.32" y2="112.30" stroke="#000" stroke-width="0.85" opacity="0.72"/>
<line x1="504.32" y1="15.00" x2="504.32" y2="16.90" stroke="#000" stroke-width="0.85" opacity="0.72"/>
<line x1="514.75" y1="114.30" x2="514.75" y2="112.30" stroke="#000" stroke-width="0.85" opacity="0.72"/>
<line x1="514.75" y1="15.00" x2="514.75" y2="16.90" stroke="#000" stroke-width="0.85" opacity="0.72"/>
<line x1="323.50" y1="15.45" x2="331.00" y2="15.45" stroke="#000" stroke-width="0.42" opacity="0.7"/>
<line x1="516.50" y1="15.45" x2="509.00" y2="15.45" stroke="#000" stroke-width="0.42" opacity="0.7"/>
<line x1="323.50" y1="21.99" x2="327.20" y2="21.99" stroke="#000" stroke-width="0.36" opacity="0.9"/>
<line x1="516.50" y1="21.99" x2="512.80" y2="21.99" stroke="#000" stroke-width="0.36" opacity="0.9"/>
<line x1="323.50" y1="20.23" x2="327.20" y2="20.23" stroke="#000" stroke-width="0.36" opacity="0.9"/>
<line x1="516.50" y1="20.23" x2="512.80" y2="20.23" stroke="#000" stroke-width="0.36" opacity="0.9"/>
<line x1="323.50" y1="18.98" x2="327.20" y2="18.98" stroke="#000" stroke-width="0.36" opacity="0.9"/>
<line x1="516.50" y1="18.98" x2="512.80" y2="18.98" stroke="#000" stroke-width="0.36" opacity="0.9"/>
<line x1="323.50" y1="18.01" x2="327.20" y2="18.01" stroke="#000" stroke-width="0.36" opacity="0.9"/>
<line x1="516.50" y1="18.01" x2="512.80" y2="18.01" stroke="#000" stroke-width="0.36" opacity="0.9"/>
<line x1="323.50" y1="17.22" x2="327.20" y2="17.22" stroke="#000" stroke-width="0.36" opacity="0.9"/>
<line x1="516.50" y1="17.22" x2="512.80" y2="17.22" stroke="#000" stroke-width="0.36" opacity="0.9"/>
<line x1="323.50" y1="16.55" x2="327.20" y2="16.55" stroke="#000" stroke-width="0.36" opacity="0.9"/>
<line x1="516.50" y1="16.55" x2="512.80" y2="16.55" stroke="#000" stroke-width="0.36" opacity="0.9"/>
<line x1="323.50" y1="15.97" x2="327.20" y2="15.97" stroke="#000" stroke-width="0.36" opacity="0.9"/>
<line x1="516.50" y1="15.97" x2="512.80" y2="15.97" stroke="#000" stroke-width="0.36" opacity="0.9"/>
<line x1="323.50" y1="15.46" x2="327.20" y2="15.46" stroke="#000" stroke-width="0.36" opacity="0.9"/>
<line x1="516.50" y1="15.46" x2="512.80" y2="15.46" stroke="#000" stroke-width="0.36" opacity="0.9"/>
<line x1="323.50" y1="24.75" x2="331.00" y2="24.75" stroke="#000" stroke-width="0.42" opacity="0.9"/>
<line x1="516.50" y1="24.75" x2="509.00" y2="24.75" stroke="#000" stroke-width="0.42" opacity="0.9"/>
<line x1="323.50" y1="31.99" x2="327.20" y2="31.99" stroke="#000" stroke-width="0.36" opacity="0.9"/>
<line x1="516.50" y1="31.99" x2="512.80" y2="31.99" stroke="#000" stroke-width="0.36" opacity="0.9"/>
<line x1="323.50" y1="30.23" x2="327.20" y2="30.23" stroke="#000" stroke-width="0.36" opacity="0.9"/>
<line x1="516.50" y1="30.23" x2="512.80" y2="30.23" stroke="#000" stroke-width="0.36" opacity="0.9"/>
<line x1="323.50" y1="28.98" x2="327.20" y2="28.98" stroke="#000" stroke-width="0.36" opacity="0.9"/>
<line x1="516.50" y1="28.98" x2="512.80" y2="28.98" stroke="#000" stroke-width="0.36" opacity="0.9"/>
<line x1="323.50" y1="28.01" x2="327.20" y2="28.01" stroke="#000" stroke-width="0.36" opacity="0.9"/>
<line x1="516.50" y1="28.01" x2="512.80" y2="28.01" stroke="#000" stroke-width="0.36" opacity="0.9"/>
<line x1="323.50" y1="27.22" x2="327.20" y2="27.22" stroke="#000" stroke-width="0.36" opacity="0.9"/>
<line x1="516.50" y1="27.22" x2="512.80" y2="27.22" stroke="#000" stroke-width="0.36" opacity="0.9"/>
<line x1="323.50" y1="26.55" x2="327.20" y2="26.55" stroke="#000" stroke-width="0.36" opacity="0.9"/>
<line x1="516.50" y1="26.55" x2="512.80" y2="26.55" stroke="#000" stroke-width="0.36" opacity="0.9"/>
<line x1="323.50" y1="25.97" x2="327.20" y2="25.97" stroke="#000" stroke-width="0.36" opacity="0.9"/>
<line x1="516.50" y1="25.97" x2="512.80" y2="25.97" stroke="#000" stroke-width="0.36" opacity="0.9"/>
<line x1="323.50" y1="25.46" x2="327.20" y2="25.46" stroke="#000" stroke-width="0.36" opacity="0.9"/>
<line x1="516.50" y1="25.46" x2="512.80" y2="25.46" stroke="#000" stroke-width="0.36" opacity="0.9"/>
<line x1="323.50" y1="34.75" x2="331.00" y2="34.75" stroke="#000" stroke-width="0.42" opacity="0.9"/>
<line x1="516.50" y1="34.75" x2="509.00" y2="34.75" stroke="#000" stroke-width="0.42" opacity="0.9"/>
<line x1="323.50" y1="41.99" x2="327.20" y2="41.99" stroke="#000" stroke-width="0.36" opacity="0.9"/>
<line x1="516.50" y1="41.99" x2="512.80" y2="41.99" stroke="#000" stroke-width="0.36" opacity="0.9"/>
<line x1="323.50" y1="40.23" x2="327.20" y2="40.23" stroke="#000" stroke-width="0.36" opacity="0.9"/>
<line x1="516.50" y1="40.23" x2="512.80" y2="40.23" stroke="#000" stroke-width="0.36" opacity="0.9"/>
<line x1="323.50" y1="38.98" x2="327.20" y2="38.98" stroke="#000" stroke-width="0.36" opacity="0.9"/>
<line x1="516.50" y1="38.98" x2="512.80" y2="38.98" stroke="#000" stroke-width="0.36" opacity="0.9"/>
<line x1="323.50" y1="38.01" x2="327.20" y2="38.01" stroke="#000" stroke-width="0.36" opacity="0.9"/>
<line x1="516.50" y1="38.01" x2="512.80" y2="38.01" stroke="#000" stroke-width="0.36" opacity="0.9"/>
<line x1="323.50" y1="37.22" x2="327.20" y2="37.22" stroke="#000" stroke-width="0.36" opacity="0.9"/>
<line x1="516.50" y1="37.22" x2="512.80" y2="37.22" stroke="#000" stroke-width="0.36" opacity="0.9"/>
<line x1="323.50" y1="36.55" x2="327.20" y2="36.55" stroke="#000" stroke-width="0.36" opacity="0.9"/>
<line x1="516.50" y1="36.55" x2="512.80" y2="36.55" stroke="#000" stroke-width="0.36" opacity="0.9"/>
<line x1="323.50" y1="35.97" x2="327.20" y2="35.97" stroke="#000" stroke-width="0.36" opacity="0.9"/>
<line x1="516.50" y1="35.97" x2="512.80" y2="35.97" stroke="#000" stroke-width="0.36" opacity="0.9"/>
<line x1="323.50" y1="35.46" x2="327.20" y2="35.46" stroke="#000" stroke-width="0.36" opacity="0.9"/>
<line x1="516.50" y1="35.46" x2="512.80" y2="35.46" stroke="#000" stroke-width="0.36" opacity="0.9"/>
<line x1="323.50" y1="44.75" x2="331.00" y2="44.75" stroke="#000" stroke-width="0.42" opacity="0.9"/>
<line x1="516.50" y1="44.75" x2="509.00" y2="44.75" stroke="#000" stroke-width="0.42" opacity="0.9"/>
<line x1="323.50" y1="51.99" x2="327.20" y2="51.99" stroke="#000" stroke-width="0.36" opacity="0.9"/>
<line x1="516.50" y1="51.99" x2="512.80" y2="51.99" stroke="#000" stroke-width="0.36" opacity="0.9"/>
<line x1="323.50" y1="50.23" x2="327.20" y2="50.23" stroke="#000" stroke-width="0.36" opacity="0.9"/>
<line x1="516.50" y1="50.23" x2="512.80" y2="50.23" stroke="#000" stroke-width="0.36" opacity="0.9"/>
<line x1="323.50" y1="48.98" x2="327.20" y2="48.98" stroke="#000" stroke-width="0.36" opacity="0.9"/>
<line x1="516.50" y1="48.98" x2="512.80" y2="48.98" stroke="#000" stroke-width="0.36" opacity="0.9"/>
<line x1="323.50" y1="48.01" x2="327.20" y2="48.01" stroke="#000" stroke-width="0.36" opacity="0.9"/>
<line x1="516.50" y1="48.01" x2="512.80" y2="48.01" stroke="#000" stroke-width="0.36" opacity="0.9"/>
<line x1="323.50" y1="47.22" x2="327.20" y2="47.22" stroke="#000" stroke-width="0.36" opacity="0.9"/>
<line x1="516.50" y1="47.22" x2="512.80" y2="47.22" stroke="#000" stroke-width="0.36" opacity="0.9"/>
<line x1="323.50" y1="46.55" x2="327.20" y2="46.55" stroke="#000" stroke-width="0.36" opacity="0.9"/>
<line x1="516.50" y1="46.55" x2="512.80" y2="46.55" stroke="#000" stroke-width="0.36" opacity="0.9"/>
<line x1="323.50" y1="45.97" x2="327.20" y2="45.97" stroke="#000" stroke-width="0.36" opacity="0.9"/>
<line x1="516.50" y1="45.97" x2="512.80" y2="45.97" stroke="#000" stroke-width="0.36" opacity="0.9"/>
<line x1="323.50" y1="45.46" x2="327.20" y2="45.46" stroke="#000" stroke-width="0.36" opacity="0.9"/>
<line x1="516.50" y1="45.46" x2="512.80" y2="45.46" stroke="#000" stroke-width="0.36" opacity="0.9"/>
<line x1="323.50" y1="54.75" x2="331.00" y2="54.75" stroke="#000" stroke-width="0.42" opacity="0.9"/>
<line x1="516.50" y1="54.75" x2="509.00" y2="54.75" stroke="#000" stroke-width="0.42" opacity="0.9"/>
<line x1="323.50" y1="61.99" x2="327.20" y2="61.99" stroke="#000" stroke-width="0.36" opacity="0.9"/>
<line x1="516.50" y1="61.99" x2="512.80" y2="61.99" stroke="#000" stroke-width="0.36" opacity="0.9"/>
<line x1="323.50" y1="60.23" x2="327.20" y2="60.23" stroke="#000" stroke-width="0.36" opacity="0.9"/>
<line x1="516.50" y1="60.23" x2="512.80" y2="60.23" stroke="#000" stroke-width="0.36" opacity="0.9"/>
<line x1="323.50" y1="58.98" x2="327.20" y2="58.98" stroke="#000" stroke-width="0.36" opacity="0.9"/>
<line x1="516.50" y1="58.98" x2="512.80" y2="58.98" stroke="#000" stroke-width="0.36" opacity="0.9"/>
<line x1="323.50" y1="58.01" x2="327.20" y2="58.01" stroke="#000" stroke-width="0.36" opacity="0.9"/>
<line x1="516.50" y1="58.01" x2="512.80" y2="58.01" stroke="#000" stroke-width="0.36" opacity="0.9"/>
<line x1="323.50" y1="57.22" x2="327.20" y2="57.22" stroke="#000" stroke-width="0.36" opacity="0.9"/>
<line x1="516.50" y1="57.22" x2="512.80" y2="57.22" stroke="#000" stroke-width="0.36" opacity="0.9"/>
<line x1="323.50" y1="56.55" x2="327.20" y2="56.55" stroke="#000" stroke-width="0.36" opacity="0.9"/>
<line x1="516.50" y1="56.55" x2="512.80" y2="56.55" stroke="#000" stroke-width="0.36" opacity="0.9"/>
<line x1="323.50" y1="55.97" x2="327.20" y2="55.97" stroke="#000" stroke-width="0.36" opacity="0.9"/>
<line x1="516.50" y1="55.97" x2="512.80" y2="55.97" stroke="#000" stroke-width="0.36" opacity="0.9"/>
<line x1="323.50" y1="55.46" x2="327.20" y2="55.46" stroke="#000" stroke-width="0.36" opacity="0.9"/>
<line x1="516.50" y1="55.46" x2="512.80" y2="55.46" stroke="#000" stroke-width="0.36" opacity="0.9"/>
<line x1="323.50" y1="64.75" x2="331.00" y2="64.75" stroke="#000" stroke-width="0.42" opacity="0.9"/>
<line x1="516.50" y1="64.75" x2="509.00" y2="64.75" stroke="#000" stroke-width="0.42" opacity="0.9"/>
<line x1="323.50" y1="71.99" x2="327.20" y2="71.99" stroke="#000" stroke-width="0.36" opacity="0.9"/>
<line x1="516.50" y1="71.99" x2="512.80" y2="71.99" stroke="#000" stroke-width="0.36" opacity="0.9"/>
<line x1="323.50" y1="70.23" x2="327.20" y2="70.23" stroke="#000" stroke-width="0.36" opacity="0.9"/>
<line x1="516.50" y1="70.23" x2="512.80" y2="70.23" stroke="#000" stroke-width="0.36" opacity="0.9"/>
<line x1="323.50" y1="68.98" x2="327.20" y2="68.98" stroke="#000" stroke-width="0.36" opacity="0.9"/>
<line x1="516.50" y1="68.98" x2="512.80" y2="68.98" stroke="#000" stroke-width="0.36" opacity="0.9"/>
<line x1="323.50" y1="68.01" x2="327.20" y2="68.01" stroke="#000" stroke-width="0.36" opacity="0.9"/>
<line x1="516.50" y1="68.01" x2="512.80" y2="68.01" stroke="#000" stroke-width="0.36" opacity="0.9"/>
<line x1="323.50" y1="67.22" x2="327.20" y2="67.22" stroke="#000" stroke-width="0.36" opacity="0.9"/>
<line x1="516.50" y1="67.22" x2="512.80" y2="67.22" stroke="#000" stroke-width="0.36" opacity="0.9"/>
<line x1="323.50" y1="66.55" x2="327.20" y2="66.55" stroke="#000" stroke-width="0.36" opacity="0.9"/>
<line x1="516.50" y1="66.55" x2="512.80" y2="66.55" stroke="#000" stroke-width="0.36" opacity="0.9"/>
<line x1="323.50" y1="65.97" x2="327.20" y2="65.97" stroke="#000" stroke-width="0.36" opacity="0.9"/>
<line x1="516.50" y1="65.97" x2="512.80" y2="65.97" stroke="#000" stroke-width="0.36" opacity="0.9"/>
<line x1="323.50" y1="65.46" x2="327.20" y2="65.46" stroke="#000" stroke-width="0.36" opacity="0.9"/>
<line x1="516.50" y1="65.46" x2="512.80" y2="65.46" stroke="#000" stroke-width="0.36" opacity="0.9"/>
<line x1="323.50" y1="74.75" x2="331.00" y2="74.75" stroke="#000" stroke-width="0.42" opacity="0.9"/>
<line x1="516.50" y1="74.75" x2="509.00" y2="74.75" stroke="#000" stroke-width="0.42" opacity="0.9"/>
<line x1="323.50" y1="81.99" x2="327.20" y2="81.99" stroke="#000" stroke-width="0.36" opacity="0.9"/>
<line x1="516.50" y1="81.99" x2="512.80" y2="81.99" stroke="#000" stroke-width="0.36" opacity="0.9"/>
<line x1="323.50" y1="80.23" x2="327.20" y2="80.23" stroke="#000" stroke-width="0.36" opacity="0.9"/>
<line x1="516.50" y1="80.23" x2="512.80" y2="80.23" stroke="#000" stroke-width="0.36" opacity="0.9"/>
<line x1="323.50" y1="78.98" x2="327.20" y2="78.98" stroke="#000" stroke-width="0.36" opacity="0.9"/>
<line x1="516.50" y1="78.98" x2="512.80" y2="78.98" stroke="#000" stroke-width="0.36" opacity="0.9"/>
<line x1="323.50" y1="78.01" x2="327.20" y2="78.01" stroke="#000" stroke-width="0.36" opacity="0.9"/>
<line x1="516.50" y1="78.01" x2="512.80" y2="78.01" stroke="#000" stroke-width="0.36" opacity="0.9"/>
<line x1="323.50" y1="77.22" x2="327.20" y2="77.22" stroke="#000" stroke-width="0.36" opacity="0.9"/>
<line x1="516.50" y1="77.22" x2="512.80" y2="77.22" stroke="#000" stroke-width="0.36" opacity="0.9"/>
<line x1="323.50" y1="76.55" x2="327.20" y2="76.55" stroke="#000" stroke-width="0.36" opacity="0.9"/>
<line x1="516.50" y1="76.55" x2="512.80" y2="76.55" stroke="#000" stroke-width="0.36" opacity="0.9"/>
<line x1="323.50" y1="75.97" x2="327.20" y2="75.97" stroke="#000" stroke-width="0.36" opacity="0.9"/>
<line x1="516.50" y1="75.97" x2="512.80" y2="75.97" stroke="#000" stroke-width="0.36" opacity="0.9"/>
<line x1="323.50" y1="75.46" x2="327.20" y2="75.46" stroke="#000" stroke-width="0.36" opacity="0.9"/>
<line x1="516.50" y1="75.46" x2="512.80" y2="75.46" stroke="#000" stroke-width="0.36" opacity="0.9"/>
<line x1="323.50" y1="84.75" x2="331.00" y2="84.75" stroke="#000" stroke-width="0.42" opacity="0.9"/>
<line x1="516.50" y1="84.75" x2="509.00" y2="84.75" stroke="#000" stroke-width="0.42" opacity="0.9"/>
<line x1="323.50" y1="91.99" x2="327.20" y2="91.99" stroke="#000" stroke-width="0.36" opacity="0.9"/>
<line x1="516.50" y1="91.99" x2="512.80" y2="91.99" stroke="#000" stroke-width="0.36" opacity="0.9"/>
<line x1="323.50" y1="90.23" x2="327.20" y2="90.23" stroke="#000" stroke-width="0.36" opacity="0.9"/>
<line x1="516.50" y1="90.23" x2="512.80" y2="90.23" stroke="#000" stroke-width="0.36" opacity="0.9"/>
<line x1="323.50" y1="88.98" x2="327.20" y2="88.98" stroke="#000" stroke-width="0.36" opacity="0.9"/>
<line x1="516.50" y1="88.98" x2="512.80" y2="88.98" stroke="#000" stroke-width="0.36" opacity="0.9"/>
<line x1="323.50" y1="88.01" x2="327.20" y2="88.01" stroke="#000" stroke-width="0.36" opacity="0.9"/>
<line x1="516.50" y1="88.01" x2="512.80" y2="88.01" stroke="#000" stroke-width="0.36" opacity="0.9"/>
<line x1="323.50" y1="87.22" x2="327.20" y2="87.22" stroke="#000" stroke-width="0.36" opacity="0.9"/>
<line x1="516.50" y1="87.22" x2="512.80" y2="87.22" stroke="#000" stroke-width="0.36" opacity="0.9"/>
<line x1="323.50" y1="86.55" x2="327.20" y2="86.55" stroke="#000" stroke-width="0.36" opacity="0.9"/>
<line x1="516.50" y1="86.55" x2="512.80" y2="86.55" stroke="#000" stroke-width="0.36" opacity="0.9"/>
<line x1="323.50" y1="85.97" x2="327.20" y2="85.97" stroke="#000" stroke-width="0.36" opacity="0.9"/>
<line x1="516.50" y1="85.97" x2="512.80" y2="85.97" stroke="#000" stroke-width="0.36" opacity="0.9"/>
<line x1="323.50" y1="85.46" x2="327.20" y2="85.46" stroke="#000" stroke-width="0.36" opacity="0.9"/>
<line x1="516.50" y1="85.46" x2="512.80" y2="85.46" stroke="#000" stroke-width="0.36" opacity="0.9"/>
<line x1="323.50" y1="94.75" x2="331.00" y2="94.75" stroke="#000" stroke-width="0.42" opacity="0.9"/>
<line x1="516.50" y1="94.75" x2="509.00" y2="94.75" stroke="#000" stroke-width="0.42" opacity="0.9"/>
<line x1="323.50" y1="101.99" x2="327.20" y2="101.99" stroke="#000" stroke-width="0.36" opacity="0.9"/>
<line x1="516.50" y1="101.99" x2="512.80" y2="101.99" stroke="#000" stroke-width="0.36" opacity="0.9"/>
<line x1="323.50" y1="100.23" x2="327.20" y2="100.23" stroke="#000" stroke-width="0.36" opacity="0.9"/>
<line x1="516.50" y1="100.23" x2="512.80" y2="100.23" stroke="#000" stroke-width="0.36" opacity="0.9"/>
<line x1="323.50" y1="98.98" x2="327.20" y2="98.98" stroke="#000" stroke-width="0.36" opacity="0.9"/>
<line x1="516.50" y1="98.98" x2="512.80" y2="98.98" stroke="#000" stroke-width="0.36" opacity="0.9"/>
<line x1="323.50" y1="98.01" x2="327.20" y2="98.01" stroke="#000" stroke-width="0.36" opacity="0.9"/>
<line x1="516.50" y1="98.01" x2="512.80" y2="98.01" stroke="#000" stroke-width="0.36" opacity="0.9"/>
<line x1="323.50" y1="97.22" x2="327.20" y2="97.22" stroke="#000" stroke-width="0.36" opacity="0.9"/>
<line x1="516.50" y1="97.22" x2="512.80" y2="97.22" stroke="#000" stroke-width="0.36" opacity="0.9"/>
<line x1="323.50" y1="96.55" x2="327.20" y2="96.55" stroke="#000" stroke-width="0.36" opacity="0.9"/>
<line x1="516.50" y1="96.55" x2="512.80" y2="96.55" stroke="#000" stroke-width="0.36" opacity="0.9"/>
<line x1="323.50" y1="95.97" x2="327.20" y2="95.97" stroke="#000" stroke-width="0.36" opacity="0.9"/>
<line x1="516.50" y1="95.97" x2="512.80" y2="95.97" stroke="#000" stroke-width="0.36" opacity="0.9"/>
<line x1="323.50" y1="95.46" x2="327.20" y2="95.46" stroke="#000" stroke-width="0.36" opacity="0.9"/>
<line x1="516.50" y1="95.46" x2="512.80" y2="95.46" stroke="#000" stroke-width="0.36" opacity="0.9"/>
<line x1="323.50" y1="104.75" x2="331.00" y2="104.75" stroke="#000" stroke-width="0.42" opacity="0.9"/>
<line x1="516.50" y1="104.75" x2="509.00" y2="104.75" stroke="#000" stroke-width="0.42" opacity="0.9"/>
<line x1="323.50" y1="111.99" x2="327.20" y2="111.99" stroke="#000" stroke-width="0.36" opacity="0.9"/>
<line x1="516.50" y1="111.99" x2="512.80" y2="111.99" stroke="#000" stroke-width="0.36" opacity="0.9"/>
<line x1="323.50" y1="110.23" x2="327.20" y2="110.23" stroke="#000" stroke-width="0.36" opacity="0.9"/>
<line x1="516.50" y1="110.23" x2="512.80" y2="110.23" stroke="#000" stroke-width="0.36" opacity="0.9"/>
<line x1="323.50" y1="108.98" x2="327.20" y2="108.98" stroke="#000" stroke-width="0.36" opacity="0.9"/>
<line x1="516.50" y1="108.98" x2="512.80" y2="108.98" stroke="#000" stroke-width="0.36" opacity="0.9"/>
<line x1="323.50" y1="108.01" x2="327.20" y2="108.01" stroke="#000" stroke-width="0.36" opacity="0.9"/>
<line x1="516.50" y1="108.01" x2="512.80" y2="108.01" stroke="#000" stroke-width="0.36" opacity="0.9"/>
<line x1="323.50" y1="107.22" x2="327.20" y2="107.22" stroke="#000" stroke-width="0.36" opacity="0.9"/>
<line x1="516.50" y1="107.22" x2="512.80" y2="107.22" stroke="#000" stroke-width="0.36" opacity="0.9"/>
<line x1="323.50" y1="106.55" x2="327.20" y2="106.55" stroke="#000" stroke-width="0.36" opacity="0.9"/>
<line x1="516.50" y1="106.55" x2="512.80" y2="106.55" stroke="#000" stroke-width="0.36" opacity="0.9"/>
<line x1="323.50" y1="105.97" x2="327.20" y2="105.97" stroke="#000" stroke-width="0.36" opacity="0.9"/>
<line x1="516.50" y1="105.97" x2="512.80" y2="105.97" stroke="#000" stroke-width="0.36" opacity="0.9"/>
<line x1="323.50" y1="105.46" x2="327.20" y2="105.46" stroke="#000" stroke-width="0.36" opacity="0.9"/>
<line x1="516.50" y1="105.46" x2="512.80" y2="105.46" stroke="#000" stroke-width="0.36" opacity="0.9"/>
<line x1="323.50" y1="14.10" x2="323.50" y2="115.90" stroke="#000" stroke-width="1.0" opacity="0.66"/>
<line x1="516.50" y1="14.10" x2="516.50" y2="115.90" stroke="#000" stroke-width="1.0" opacity="0.66"/>
<g filter="url(#tb)">
<text x="116.10" y="13.20" font-family="Liberation Sans" font-size="7.3" text-anchor="start" textLength="58.80" lengthAdjust="spacingAndGlyphs" fill="#333" >SZ vs ISW</text>
<text x="380.50" y="12.30" font-family="Liberation Sans" font-size="7.3" text-anchor="start" textLength="76.40" lengthAdjust="spacingAndGlyphs" fill="#333" >ISW vs NVSS</text>
<text x="133.70" y="85.60" font-family="Liberation Sans" font-size="6.6" text-anchor="start" textLength="19.60" lengthAdjust="spacingAndGlyphs" fill="#333" >X,X</text>
<text x="133.70" y="95.50" font-family="Liberation Sans" font-size="6.6" text-anchor="start" textLength="34.60" lengthAdjust="spacingAndGlyphs" fill="#333" >X,ISW</text>
<text x="133.70" y="105.40" font-family="Liberation Sans" font-size="6.6" text-anchor="start" textLength="27.40" lengthAdjust="spacingAndGlyphs" fill="#333" >X,SZ</text>
<text x="409.90" y="85.60" font-family="Liberation Sans" font-size="6.6" text-anchor="start" textLength="19.20" lengthAdjust="spacingAndGlyphs" fill="#333" >X,X</text>
<text x="409.90" y="95.50" font-family="Liberation Sans" font-size="6.6" text-anchor="start" textLength="44.80" lengthAdjust="spacingAndGlyphs" fill="#333" >X,NVSS</text>
<text x="409.90" y="105.40" font-family="Liberation Sans" font-size="6.6" text-anchor="start" textLength="34.40" lengthAdjust="spacingAndGlyphs" fill="#333" >X,ISW</text>
<text x="97.00" y="124.80" font-family="Liberation Serif" font-size="7.6" text-anchor="start" textLength="14.00" lengthAdjust="spacingAndGlyphs" fill="#333" stroke="#333" stroke-width="0.12">10</text>
<text x="152.50" y="124.80" font-family="Liberation Serif" font-size="7.6" text-anchor="start" textLength="21.00" lengthAdjust="spacingAndGlyphs" fill="#333" stroke="#333" stroke-width="0.12">100</text>
<text x="208.20" y="124.80" font-family="Liberation Serif" font-size="7.6" text-anchor="start" textLength="28.00" lengthAdjust="spacingAndGlyphs" fill="#333" stroke="#333" stroke-width="0.12">1000</text>
<text x="360.90" y="124.80" font-family="Liberation Serif" font-size="7.6" text-anchor="start" textLength="14.00" lengthAdjust="spacingAndGlyphs" fill="#333" stroke="#333" stroke-width="0.12">10</text>
<text x="416.40" y="124.80" font-family="Liberation Serif" font-size="7.6" text-anchor="start" textLength="21.00" lengthAdjust="spacingAndGlyphs" fill="#333" stroke="#333" stroke-width="0.12">100</text>
<text x="472.10" y="124.80" font-family="Liberation Serif" font-size="7.6" text-anchor="start" textLength="28.00" lengthAdjust="spacingAndGlyphs" fill="#333" stroke="#333" stroke-width="0.12">1000</text>
<text x="155.50" y="133.30" font-family="Liberation Serif" font-size="9" text-anchor="middle" textLength="3.60" lengthAdjust="spacingAndGlyphs" fill="#333" >l</text>
<text x="419.40" y="133.90" font-family="Liberation Serif" font-size="9" text-anchor="middle" textLength="3.40" lengthAdjust="spacingAndGlyphs" fill="#333" >l</text>
<text x="420.00" y="134.00" font-family="Liberation Serif" font-size="6.9" text-anchor="middle" textLength="7.00" lengthAdjust="spacingAndGlyphs" fill="#333" stroke="#333" stroke-width="0.2">2</text>
<text x="52.10" y="15.20" font-family="Liberation Serif" font-size="5.0" text-anchor="end" textLength="12.60" lengthAdjust="spacingAndGlyphs" fill="#333" >−11</text>
<text x="38.20" y="18.10" font-family="Liberation Serif" font-size="6.8" text-anchor="end" textLength="14.00" lengthAdjust="spacingAndGlyphs" fill="#333" >10</text>
<text x="52.10" y="35.20" font-family="Liberation Serif" font-size="5.0" text-anchor="end" textLength="12.60" lengthAdjust="spacingAndGlyphs" fill="#333" >−12</text>
<text x="38.20" y="38.10" font-family="Liberation Serif" font-size="6.8" text-anchor="end" textLength="14.00" lengthAdjust="spacingAndGlyphs" fill="#333" >10</text>
<text x="52.10" y="55.20" font-family="Liberation Serif" font-size="5.0" text-anchor="end" textLength="12.60" lengthAdjust="spacingAndGlyphs" fill="#333" >−13</text>
<text x="38.20" y="58.10" font-family="Liberation Serif" font-size="6.8" text-anchor="end" textLength="14.00" lengthAdjust="spacingAndGlyphs" fill="#333" >10</text>
<text x="52.10" y="75.20" font-family="Liberation Serif" font-size="5.0" text-anchor="end" textLength="12.60" lengthAdjust="spacingAndGlyphs" fill="#333" >−14</text>
<text x="38.20" y="78.10" font-family="Liberation Serif" font-size="6.8" text-anchor="end" textLength="14.00" lengthAdjust="spacingAndGlyphs" fill="#333" >10</text>
<text x="52.10" y="95.20" font-family="Liberation Serif" font-size="5.0" text-anchor="end" textLength="12.60" lengthAdjust="spacingAndGlyphs" fill="#333" >−15</text>
<text x="38.20" y="98.10" font-family="Liberation Serif" font-size="6.8" text-anchor="end" textLength="14.00" lengthAdjust="spacingAndGlyphs" fill="#333" >10</text>
<text x="52.10" y="115.20" font-family="Liberation Serif" font-size="5.0" text-anchor="end" textLength="12.60" lengthAdjust="spacingAndGlyphs" fill="#333" >−16</text>
<text x="38.20" y="118.10" font-family="Liberation Serif" font-size="6.8" text-anchor="end" textLength="14.00" lengthAdjust="spacingAndGlyphs" fill="#333" >10</text>
<text x="316.80" y="15.20" font-family="Liberation Serif" font-size="5.0" text-anchor="end" textLength="8.60" lengthAdjust="spacingAndGlyphs" fill="#333" >−6</text>
<text x="306.90" y="18.10" font-family="Liberation Serif" font-size="6.8" text-anchor="end" textLength="14.00" lengthAdjust="spacingAndGlyphs" fill="#333" >10</text>
<text x="316.80" y="25.20" font-family="Liberation Serif" font-size="5.0" text-anchor="end" textLength="8.60" lengthAdjust="spacingAndGlyphs" fill="#333" >−7</text>
<text x="306.90" y="28.10" font-family="Liberation Serif" font-size="6.8" text-anchor="end" textLength="14.00" lengthAdjust="spacingAndGlyphs" fill="#333" >10</text>
<text x="316.80" y="35.20" font-family="Liberation Serif" font-size="5.0" text-anchor="end" textLength="8.60" lengthAdjust="spacingAndGlyphs" fill="#333" >−8</text>
<text x="306.90" y="38.10" font-family="Liberation Serif" font-size="6.8" text-anchor="end" textLength="14.00" lengthAdjust="spacingAndGlyphs" fill="#333" >10</text>
<text x="316.80" y="45.20" font-family="Liberation Serif" font-size="5.0" text-anchor="end" textLength="8.60" lengthAdjust="spacingAndGlyphs" fill="#333" >−9</text>
<text x="306.90" y="48.10" font-family="Liberation Serif" font-size="6.8" text-anchor="end" textLength="14.00" lengthAdjust="spacingAndGlyphs" fill="#333" >10</text>
<text x="316.80" y="55.20" font-family="Liberation Serif" font-size="5.0" text-anchor="end" textLength="12.60" lengthAdjust="spacingAndGlyphs" fill="#333" >−10</text>
<text x="302.90" y="58.10" font-family="Liberation Serif" font-size="6.8" text-anchor="end" textLength="14.00" lengthAdjust="spacingAndGlyphs" fill="#333" >10</text>
<text x="316.80" y="65.20" font-family="Liberation Serif" font-size="5.0" text-anchor="end" textLength="12.60" lengthAdjust="spacingAndGlyphs" fill="#333" >−11</text>
<text x="302.90" y="68.10" font-family="Liberation Serif" font-size="6.8" text-anchor="end" textLength="14.00" lengthAdjust="spacingAndGlyphs" fill="#333" >10</text>
<text x="316.80" y="75.20" font-family="Liberation Serif" font-size="5.0" text-anchor="end" textLength="12.60" lengthAdjust="spacingAndGlyphs" fill="#333" >−12</text>
<text x="302.90" y="78.10" font-family="Liberation Serif" font-size="6.8" text-anchor="end" textLength="14.00" lengthAdjust="spacingAndGlyphs" fill="#333" >10</text>
<text x="316.80" y="85.20" font-family="Liberation Serif" font-size="5.0" text-anchor="end" textLength="12.60" lengthAdjust="spacingAndGlyphs" fill="#333" >−13</text>
<text x="302.90" y="88.10" font-family="Liberation Serif" font-size="6.8" text-anchor="end" textLength="14.00" lengthAdjust="spacingAndGlyphs" fill="#333" >10</text>
<text x="316.80" y="95.20" font-family="Liberation Serif" font-size="5.0" text-anchor="end" textLength="12.60" lengthAdjust="spacingAndGlyphs" fill="#333" >−14</text>
<text x="302.90" y="98.10" font-family="Liberation Serif" font-size="6.8" text-anchor="end" textLength="14.00" lengthAdjust="spacingAndGlyphs" fill="#333" >10</text>
<text x="316.80" y="105.20" font-family="Liberation Serif" font-size="5.0" text-anchor="end" textLength="12.60" lengthAdjust="spacingAndGlyphs" fill="#333" >−15</text>
<text x="302.90" y="108.10" font-family="Liberation Serif" font-size="6.8" text-anchor="end" textLength="14.00" lengthAdjust="spacingAndGlyphs" fill="#333" >10</text>
<text x="316.80" y="115.20" font-family="Liberation Serif" font-size="5.0" text-anchor="end" textLength="12.60" lengthAdjust="spacingAndGlyphs" fill="#333" >−16</text>
<text x="302.90" y="118.10" font-family="Liberation Serif" font-size="6.8" text-anchor="end" textLength="14.00" lengthAdjust="spacingAndGlyphs" fill="#333" >10</text>
<g transform="translate(17.2,91.0) scale(1.7,1) rotate(-90)" font-family="Liberation Serif" fill="#333" font-size="9"><text x="0" y="0">l(l+1)&lt;</text><text x="26.2" y="0" font-style="italic" textLength="4.3" lengthAdjust="spacingAndGlyphs">δ</text><text x="31.0" y="0" font-style="italic" textLength="4.0" lengthAdjust="spacingAndGlyphs">C</text><text x="35.0" y="2.2" font-size="5.4">l</text><text x="36.5" y="-4.3" font-size="5.7">2</text><text x="39.0" y="0">&gt;</text><text x="45.0" y="-4.3" font-size="5.7">1/2</text></g>
<g transform="translate(276.6,91.0) scale(1.7,1) rotate(-90)" font-family="Liberation Serif" fill="#333" font-size="9"><text x="0" y="0">l(l+1)&lt;</text><text x="26.2" y="0" font-style="italic" textLength="4.3" lengthAdjust="spacingAndGlyphs">δ</text><text x="31.0" y="0" font-style="italic" textLength="4.0" lengthAdjust="spacingAndGlyphs">C</text><text x="35.0" y="2.2" font-size="5.4">l</text><text x="36.5" y="-4.3" font-size="5.7">2</text><text x="39.0" y="0">&gt;</text><text x="45.0" y="-4.3" font-size="5.7">1/2</text></g>
</g>
</svg>
</body></html>
